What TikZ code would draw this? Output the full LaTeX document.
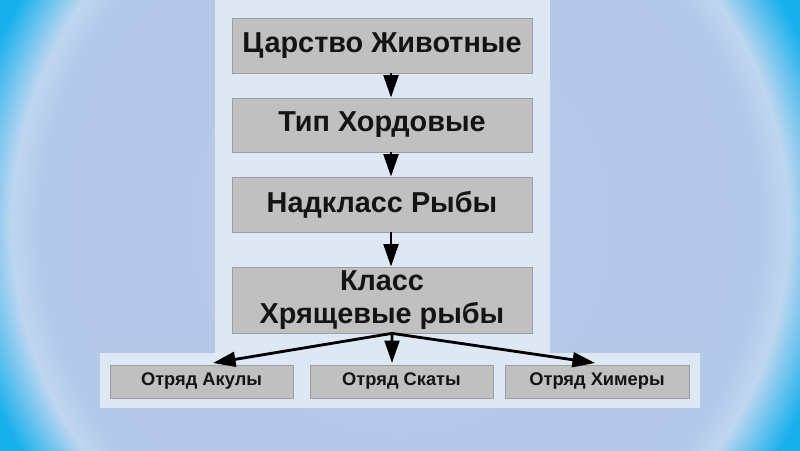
\documentclass[tikz,border=0pt]{standalone}
\usepackage{fontspec}
\setmainfont{Liberation Sans}
\usetikzlibrary{arrows.meta}
\definecolor{bgCyan}{RGB}{22,176,236}
\definecolor{bgRing}{RGB}{190,214,240}
\definecolor{bgMid}{RGB}{180,200,233}
\definecolor{bgCore}{RGB}{186,200,234}
\definecolor{panelBlue}{RGB}{222,232,244}
\definecolor{boxGray}{RGB}{192,192,192}
\definecolor{boxLine}{RGB}{158,158,158}
\pgfdeclareradialshading{bgGlow}{\pgfpoint{0bp}{0bp}}{color(0bp)=(bgCore); color(19.5bp)=(bgMid); color(21.1bp)=(bgRing); color(24bp)=(bgCyan); color(50bp)=(bgCyan)}

\begin{document}
\begin{tikzpicture}[x=0.025cm,y=-0.025cm,
  rankbox/.style={draw=boxLine,fill=boxGray,line width=0.5pt,minimum width=7.5cm,inner sep=0pt,
    font=\bfseries\fontsize{20.5}{23}\selectfont,text=black!92,align=center},
  orderbox/.style={draw=boxLine,fill=boxGray,line width=0.5pt,minimum width=4.575cm,minimum height=0.825cm,
    inner sep=0pt,font=\bfseries\fontsize{13}{14}\selectfont,text=black!92},
  link/.style={line width=2pt,-{Triangle[length=16pt,width=10.5pt]}}]
  \useasboundingbox (0,0) rectangle (800,450);
  % background and panels
  \begin{scope}
    \clip (0,0) rectangle (800,450);
    \shade[shading=bgGlow] (400,225) circle[radius=11.5cm];
  \end{scope}
  \fill[panelBlue] (215,0) rectangle (550,353);
  \fill[panelBlue] (100,353) rectangle (700,408);
  % ranks
  \node[rankbox,minimum height=1.375cm] (kingdom) at (382,45.5) {Царство Животные};
  \node[rankbox,minimum height=1.35cm] (phylum) at (382,125) {Тип Хордовые};
  \node[rankbox,minimum height=1.375cm] (superclass) at (382,204.5) {Надкласс Рыбы};
  \node[rankbox,minimum height=1.65cm] (class) at (382,300) {Класс\\Хрящевые рыбы};
  \foreach \a/\b in {kingdom/phylum,phylum/superclass,superclass/class}
    \draw[link] ([xshift=0.225cm]\a.south) -- ([xshift=0.225cm]\b.north);
  % orders
  \node[orderbox] (sharks) at (201.5,381.5) {Отряд Акулы};
  \node[orderbox] (rays) at (401.5,381.5) {Отряд Скаты};
  \node[orderbox,minimum width=4.6cm] (chimaeras) at (597,381.5) {Отряд Химеры};
  \coordinate (toSharks) at (213,363);
  \coordinate (toRays) at (392,363);
  \coordinate (toChimaeras) at (595,363);
  \foreach \t in {toSharks,toRays,toChimaeras}
    \draw[link] ([xshift=0.25cm]class.south) -- (\t);
\end{tikzpicture}
\end{document}
